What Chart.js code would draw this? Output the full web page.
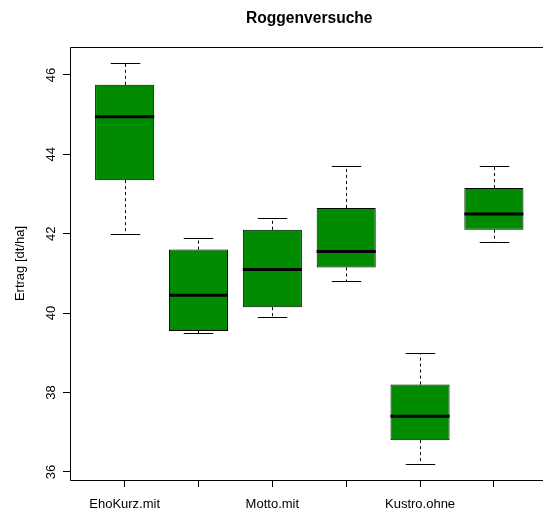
<!DOCTYPE html>
<html><head><meta charset="utf-8">
<script src="https://cdn.jsdelivr.net/npm/chart.js@4/dist/chart.umd.min.js"></script>
<style>html,body{margin:0;padding:0;overflow:hidden;background:#fff}#wrap{width:543px;height:511px}</style>
</head><body><div id="wrap"><canvas id="c" width="543" height="511"></canvas></div>
<script>
const chartTitle = "Roggenversuche";
const yAxisTitle = "Ertrag [dt/ha]";
const positions = [1, 2, 3, 4, 5, 6];
const xTickLabels = ["EhoKurz.mit", "", "Motto.mit", "", "Kustro.ohne", ""];
const whiskerLow = [42.0, 39.5, 39.9, 40.8, 36.2, 41.8];
const q1 = [43.35, 39.55, 40.15, 41.15, 36.8, 42.1];
const median = [44.95, 40.45, 41.1, 41.55, 37.4, 42.5];
const q3 = [45.75, 41.6, 42.1, 42.65, 38.2, 43.15];
const whiskerHigh = [46.3, 41.9, 42.4, 43.7, 39.0, 43.7];
const yTicks = [36, 38, 40, 42, 44, 46];

const FONT = '"Liberation Sans", Arial, Helvetica, sans-serif';

const boxPlugin = {
  id: 'boxParts',
  beforeDatasetsDraw(chart) {
    const ctx = chart.ctx, xs = chart.scales.x, ys = chart.scales.y;
    const meta = chart.getDatasetMeta(0);
    ctx.save();
    ctx.strokeStyle = '#000';
    ctx.lineWidth = 1;
    positions.forEach((p, i) => {
      const x = Math.round(xs.getPixelForValue(p)) + 0.5;
      const hw = meta.data[i].width / 4;
      const yLo = Math.round(ys.getPixelForValue(whiskerLow[i])) + 0.5;
      const yHi = Math.round(ys.getPixelForValue(whiskerHigh[i])) + 0.5;
      const yQ1 = ys.getPixelForValue(q1[i]);
      const yQ3 = ys.getPixelForValue(q3[i]);
      ctx.setLineDash([3, 3]);
      ctx.beginPath();
      ctx.moveTo(x, yQ3); ctx.lineTo(x, yHi);
      ctx.moveTo(x, yQ1); ctx.lineTo(x, yLo);
      ctx.stroke();
      ctx.setLineDash([]);
      ctx.beginPath();
      ctx.moveTo(x - hw, yHi); ctx.lineTo(x + hw, yHi);
      ctx.moveTo(x - hw, yLo); ctx.lineTo(x + hw, yLo);
      ctx.stroke();
    });
    ctx.restore();
  },
  afterDatasetsDraw(chart) {
    const ctx = chart.ctx, xs = chart.scales.x, ys = chart.scales.y;
    const meta = chart.getDatasetMeta(0);
    ctx.save();
    ctx.strokeStyle = '#000';
    ctx.lineWidth = 3;
    positions.forEach((p, i) => {
      const x = xs.getPixelForValue(p);
      const hw = meta.data[i].width / 2;
      const y = ys.getPixelForValue(median[i]);
      ctx.beginPath();
      ctx.moveTo(x - hw, y); ctx.lineTo(x + hw, y);
      ctx.stroke();
    });
    ctx.restore();
  },
  afterDraw(chart) {
    const ctx = chart.ctx, xs = chart.scales.x, ys = chart.scales.y;
    const a = chart.chartArea;
    ctx.save();
    ctx.strokeStyle = '#000';
    ctx.lineWidth = 1;
    const l = Math.floor(a.left) + 0.5, t = Math.floor(a.top) + 0.5;
    const b = Math.floor(a.bottom) + 0.5;
    ctx.beginPath();
    ctx.moveTo(chart.width + 2, t); ctx.lineTo(l, t); ctx.lineTo(l, b); ctx.lineTo(chart.width + 2, b);
    ctx.stroke();
    ctx.fillStyle = '#000';
    ctx.font = 'bold 15.6px ' + FONT;
    ctx.textAlign = 'center';
    ctx.textBaseline = 'alphabetic';
    ctx.fillText(chartTitle, (xs.getPixelForValue(0.26) + xs.getPixelForValue(6.74)) / 2, 23);
    ctx.font = '13px ' + FONT;
    positions.forEach((p, i) => {
      if (xTickLabels[i]) ctx.fillText(xTickLabels[i], xs.getPixelForValue(p), 508);
    });
    yTicks.forEach(v => {
      ctx.save();
      ctx.translate(55, ys.getPixelForValue(v));
      ctx.rotate(-Math.PI / 2);
      ctx.fillText(String(v), 0, 0);
      ctx.restore();
    });
    ctx.save();
    ctx.translate(24, (a.top + a.bottom) / 2);
    ctx.rotate(-Math.PI / 2);
    ctx.fillText(yAxisTitle, 0, 0);
    ctx.restore();
    ctx.restore();
  }
};

new Chart(document.getElementById('c'), {
  type: 'bar',
  data: {
    datasets: [{
      data: positions.map((p, i) => ({ x: p, y: [q1[i], q3[i]] })),
      backgroundColor: '#008B00',
      borderColor: '#000',
      borderWidth: 1,
      borderSkipped: false,
      barPercentage: 0.8,
      categoryPercentage: 1
    }]
  },
  options: {
    responsive: false,
    animation: false,
    devicePixelRatio: 1,
    layout: { padding: { top: 47, right: 0, left: 0, bottom: 0 } },
    plugins: { legend: { display: false }, tooltip: { enabled: false }, title: { display: false } },
    scales: {
      x: {
        type: 'linear', min: 0.26, max: 6.665, offset: false,
        afterBuildTicks: s => { s.ticks = positions.map(v => ({ value: v })); },
        ticks: { display: false },
        grid: { display: true, offset: false, drawOnChartArea: false, drawTicks: true, tickLength: 7, color: '#000' },
        border: { display: false },
        afterFit: s => { s.height = 31; }
      },
      y: {
        type: 'linear', min: 35.796, max: 46.704,
        afterBuildTicks: s => { s.ticks = yTicks.map(v => ({ value: v })); },
        ticks: { display: false },
        grid: { display: true, drawOnChartArea: false, drawTicks: true, tickLength: 7, color: '#000' },
        border: { display: false },
        afterFit: s => { s.width = 70; }
      }
    }
  },
  plugins: [boxPlugin]
});
</script>
</body></html>
